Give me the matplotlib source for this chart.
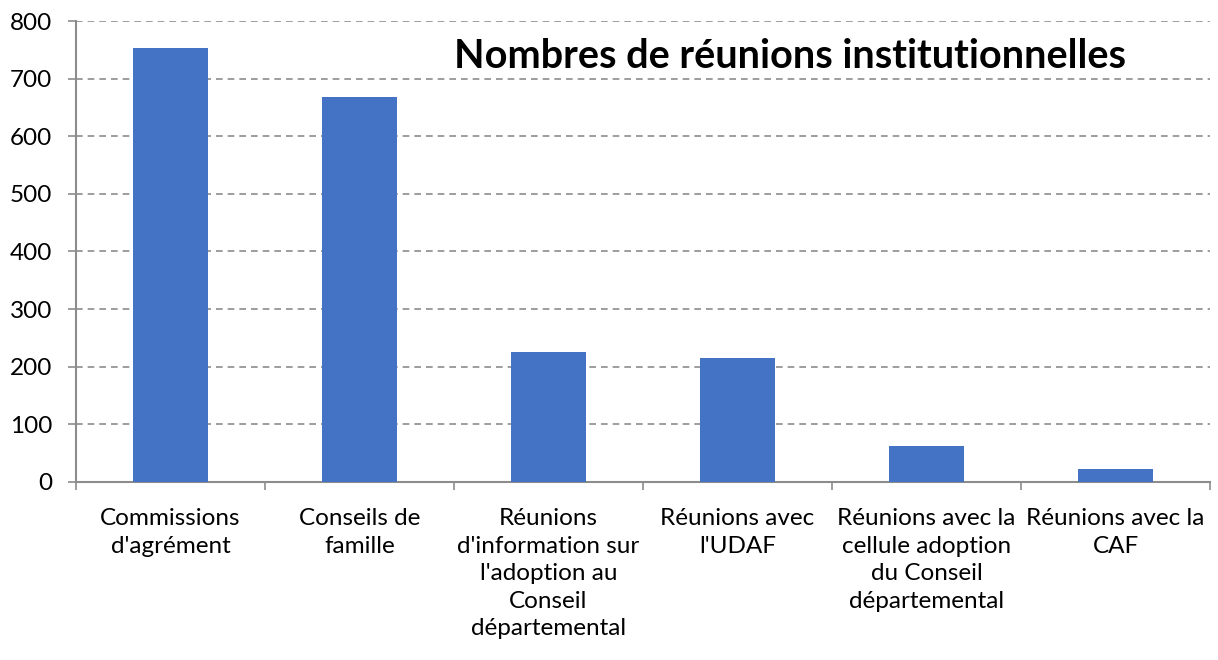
import matplotlib.pyplot as plt
import numpy as np

categories = [
    "Commissions\nd'agrément",
    "Conseils de\nfamille",
    "Réunions\nd'information sur\nl'adoption au\nConseil\ndépartemental",
    "Réunions avec\nl'UDAF",
    "Réunions avec la\ncellule adoption\ndu Conseil\ndépartemental",
    "Réunions avec la\nCAF",
]
values = [753, 668, 225, 215, 63, 23]
yticks = [0, 100, 200, 300, 400, 500, 600, 700, 800]

plt.rcParams['font.family'] = ['Lato', 'DejaVu Sans']

fig = plt.figure(figsize=(12.18, 6.6), dpi=100)
ax = fig.add_axes([76 / 1218, 1 - 482 / 660, (1210 - 76) / 1218, (482 - 21) / 660])

x = np.arange(len(categories))
ax.bar(x, values, width=0.4, color='#4472C4', zorder=3)

ax.set_xlim(-0.5, len(categories) - 0.5)
ax.set_ylim(0, 800)
ax.set_yticks(yticks)
ax.set_yticklabels([str(v) for v in yticks], fontsize=17.5)
ax.yaxis.grid(True, linestyle=(0, (4, 3)), color='#8c8c8c', linewidth=1.2, zorder=0)

ax.set_xticks(x)
ax.set_xticklabels(categories, fontsize=17.5, linespacing=1.38)
ax.tick_params(axis='x', length=0, pad=19)
ax.set_xticks(np.arange(-0.5, len(categories)), minor=True)
ax.tick_params(axis='x', which='minor', length=6, color='#8c8c8c', width=1.2)
ax.tick_params(axis='y', length=6, color='#8c8c8c', width=1.2, pad=11)

for s in ['top', 'right']:
    ax.spines[s].set_visible(False)
for s in ['left', 'bottom']:
    ax.spines[s].set_color('#8c8c8c')
    ax.spines[s].set_linewidth(1.5)

ax.text(0.63, 0.922, "Nombres de réunions institutionnelles", transform=ax.transAxes,
        ha='center', va='center', fontsize=28.5, fontweight='bold')

fig.savefig('out.png', dpi=100)
